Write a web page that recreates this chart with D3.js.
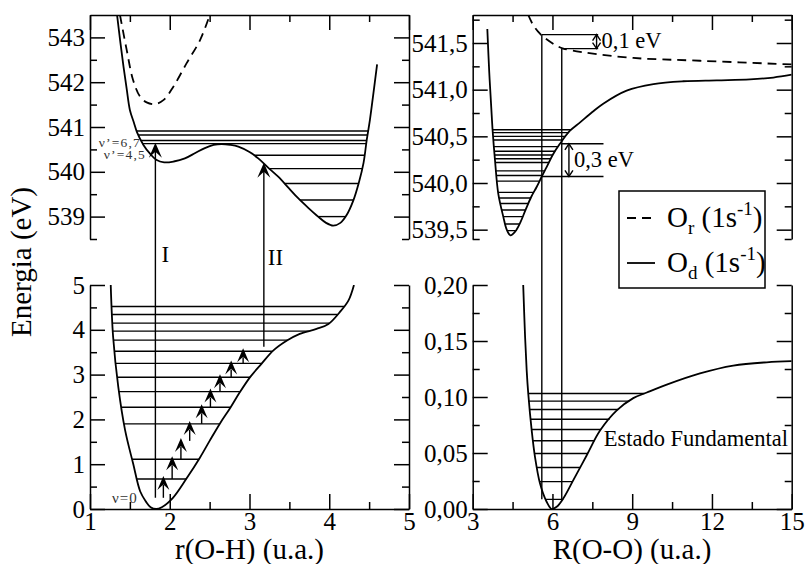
<!DOCTYPE html>
<html>
<head>
<meta charset="utf-8">
<script src="https://cdn.jsdelivr.net/npm/d3@7"></script>
<style>
  body { margin: 0; background: #fff; }
  svg text { font-family: "Liberation Serif", "DejaVu Serif", serif; }
</style>
</head>
<body>
<svg id="chart" width="807" height="564"></svg>
<script>
// ---------- values ----------
var ohTicks = [1, 2, 3, 4, 5];
var ohMinor = [1.5, 2.5, 3.5, 4.5];
var ooTicks = [3, 6, 9, 12, 15];
var ooMinor = [4.5, 7.5, 10.5, 13.5];
var ohCoreTicks = [539, 540, 541, 542, 543];
var ohCoreMinor = [538.5, 539.5, 540.5, 541.5, 542.5];
var ohGroundTicks = [0, 1, 2, 3, 4, 5];
var ohGroundMinor = [0.5, 1.5, 2.5, 3.5, 4.5];
var ooCoreTicks = [539.5, 540.0, 540.5, 541.0, 541.5];
var ooCoreMinor = [539.4, 539.75, 540.25, 540.75, 541.25, 541.75];
var ooGroundTicks = [0, 0.05, 0.10, 0.15, 0.20];
var ooGroundMinor = [0.025, 0.075, 0.125, 0.175];

// O-H stretch, core excited O_d (1s^-1), solid
var ohCoreR = [1.34, 1.38, 1.42, 1.46, 1.50, 1.55, 1.59, 1.67, 1.75, 1.83, 1.93, 2.05, 2.19, 2.32, 2.44, 2.55, 2.65,
  2.76, 2.86, 3.00, 3.11, 3.23, 3.36, 3.49, 3.61, 3.74, 3.86, 3.96, 4.05, 4.14, 4.22, 4.30, 4.37, 4.43, 4.47, 4.51, 4.55, 4.60];
var ohCoreE = [543.49, 542.9, 542.35, 541.85, 541.38, 541.1, 540.88, 540.6, 540.41, 540.27, 540.21, 540.23, 540.30, 540.42, 540.53, 540.6, 540.62,
  540.6, 540.56, 540.44, 540.30, 540.10, 539.89, 539.64, 539.41, 539.19, 539.0, 538.86, 538.8, 538.86, 539.04, 539.35, 539.75, 540.2, 540.71, 541.16, 541.7, 542.4];
// O-H stretch, O_r (1s^-1), dashed
var ohCoreRDash = [1.376, 1.46, 1.54, 1.627, 1.71, 1.81, 1.92, 2.045, 2.21, 2.38, 2.50];
var ohCoreEDash = [543.5, 542.72, 542.05, 541.68, 541.55, 541.51, 541.60, 541.9, 542.42, 542.94, 543.49];
var ohCoreLevels = [539.0, 539.37, 539.74, 540.07, 540.37, 540.63, 540.70, 540.82, 540.91];

// O-H stretch, ground state
var ohGroundR = [1.26, 1.29, 1.355, 1.44, 1.54, 1.63, 1.70, 1.76, 1.83, 1.90, 2.04, 2.21, 2.38, 2.50, 2.63, 2.76, 2.88,
  3.01, 3.15, 3.30, 3.47, 3.63, 3.84, 3.99, 4.13, 4.24, 4.31];
var ohGroundE = [5.0, 3.84, 2.72, 1.76, 1.02, 0.39, 0.17, 0.04, 0.0, 0.04, 0.25, 0.68, 1.15, 1.52, 1.91, 2.26, 2.61,
  2.95, 3.24, 3.54, 3.76, 3.91, 4.02, 4.13, 4.39, 4.65, 5.0];
var ohGroundLevels = [0.25, 0.67, 1.11, 1.52, 1.90, 2.27, 2.62, 2.94, 3.25, 3.52, 3.77, 3.97, 4.15, 4.34, 4.52];
// small pumping arrows, r position of each step
var pumpR = [1.92, 2.03, 2.14, 2.25, 2.40, 2.51, 2.63, 2.77, 2.92];

// O-O stretch, core excited
var ooCoreR = [3.55, 3.62, 3.70, 3.75, 3.84, 3.96, 4.15, 4.28, 4.42, 4.60, 4.78, 5.0, 5.2, 5.41, 5.6, 5.78, 6.03, 6.28,
  6.66, 7.04, 7.5, 7.91, 8.79, 9.80, 10.92, 12.18, 13.43, 14.31, 15.0];
var ooCoreE = [541.65, 541.2, 540.8, 540.56, 540.24, 539.89, 539.64, 539.5, 539.44, 539.48, 539.57, 539.72, 539.85, 539.96, 540.07, 540.17, 540.31, 540.42,
  540.56, 540.65, 540.76, 540.85, 540.99, 541.06, 541.09, 541.1, 541.11, 541.13, 541.16];
var ooCoreRDash = [5.09, 5.28, 5.53, 5.78, 6.16, 6.41, 7.16, 9.04, 11.55, 15.0];
var ooCoreEDash = [541.80, 541.69, 541.60, 541.54, 541.47, 541.44, 541.40, 541.34, 541.31, 541.27];
var ooCoreLevels = [539.49, 539.56, 539.64, 539.71, 539.78, 539.84, 539.90, 539.96, 540.02, 540.08, 540.13, 540.17,
  540.22, 540.26, 540.30, 540.34, 540.39, 540.42, 540.46, 540.50, 540.54, 540.57];

// O-O stretch, ground state
var ooGroundR = [4.90, 4.97, 5.03, 5.09, 5.22, 5.34, 5.53, 5.78, 5.97, 6.16, 6.41, 6.79, 7.29, 7.79, 8.42, 9.04, 9.55,
  10.3, 11.55, 12.8, 14.06, 15.0];
var ooGroundE = [0.200, 0.154, 0.124, 0.103, 0.070, 0.047, 0.023, 0.0065, 0.0, 0.002, 0.0095, 0.026, 0.048, 0.070, 0.088, 0.099, 0.104,
  0.111, 0.121, 0.128, 0.131, 0.132];
var ooGroundLevels = [0.0086, 0.0244, 0.0371, 0.0496, 0.0609, 0.0710, 0.0802, 0.0889, 0.0963, 0.1031];

// vertical transitions: [r, E start (ground), E end (core excited)]
var ohTransitions = [[1.82, 0.25, 540.65], [3.18, 3.62, 540.2]];
var ohTransitionNames = ["I", "II"];
var ooTransitions = [[5.6, 0.0086, 541.59], [6.35, 0.0086, 541.44]];
// energy gaps marked in the O-O panel: [R of arrow, E low, E high, R end of guide lines]
var ooGaps = [[7.66, 541.44, 541.59, 7.72], [6.62, 540.07, 540.42, 7.92]];
var ooGapNames = ["0,1 eV", "0,3 eV"];
var legendSubs = ["r", "d"];

// ---------- layout ----------
var serif = "Liberation Serif";
var svg = d3.select("#chart");
var xOH = d3.scaleLinear().domain([1, 5]).range([90, 409]);
var xOO = d3.scaleLinear().domain([3, 15]).range([472.7, 791.7]);
var yOHc = d3.scaleLinear().domain([538.5, 543.5]).range([239, 15]);
var yOHg = d3.scaleLinear().domain([0, 5]).range([509, 285]);
var yOOc = d3.scaleLinear().domain([539.4, 541.8]).range([239, 15]);
var yOOg = d3.scaleLinear().domain([0, 0.2]).range([509, 285]);

var comma1 = function(d) { return d3.format(".1f")(d).replace(".", ","); };
var comma2 = function(d) { return d3.format(".2f")(d).replace(".", ","); };

function styleAxis(g) {
  g.attr("font-size", 25).attr("font-family", serif);
  g.selectAll("line, path").attr("stroke", "#000").attr("stroke-width", 1.5);
  g.selectAll("text").attr("fill", "#000");
}

// one panel: left/right spines with inward ticks, top or bottom spine
function panel(x, y, yMajor, yMinor, yFmt, xMajor, xMinor, bottom) {
  var x0 = x.range()[0], x1 = x.range()[1];
  var yb = y.range()[0], yt = y.range()[1];
  var g = svg.append("g");
  g.append("g").attr("transform", "translate(" + x0 + ",0)")
    .call(d3.axisLeft(y).tickValues(yMajor).tickSize(-15).tickSizeOuter(0).tickPadding(5).tickFormat(yFmt)).call(styleAxis);
  g.append("g").attr("transform", "translate(" + x0 + ",0)")
    .call(d3.axisLeft(y).tickValues(yMinor).tickSize(-7).tickFormat("")).call(styleAxis)
    .select(".domain").remove();
  g.append("g").attr("transform", "translate(" + x1 + ",0)")
    .call(d3.axisRight(y).tickValues(yMajor).tickSize(-15).tickSizeOuter(0).tickFormat("")).call(styleAxis);
  g.append("g").attr("transform", "translate(" + x1 + ",0)")
    .call(d3.axisRight(y).tickValues(yMinor).tickSize(-7).tickFormat("")).call(styleAxis)
    .select(".domain").remove();
  if (bottom) {
    g.append("g").attr("transform", "translate(0," + yb + ")")
      .call(d3.axisBottom(x).tickValues(xMajor).tickSize(-15).tickSizeOuter(0).tickPadding(3).tickFormat(d3.format("d"))).call(styleAxis);
    g.append("g").attr("transform", "translate(0," + yb + ")")
      .call(d3.axisBottom(x).tickValues(xMinor).tickSize(-7).tickFormat("")).call(styleAxis)
      .select(".domain").remove();
  } else {
    g.append("g").attr("transform", "translate(0," + yt + ")")
      .call(d3.axisTop(x).tickValues(xMajor).tickSize(-15).tickSizeOuter(0).tickFormat("")).call(styleAxis);
    g.append("g").attr("transform", "translate(0," + yt + ")")
      .call(d3.axisTop(x).tickValues(xMinor).tickSize(-7).tickFormat("")).call(styleAxis)
      .select(".domain").remove();
  }
}

panel(xOH, yOHc, ohCoreTicks, ohCoreMinor, d3.format("d"), ohTicks, ohMinor, false);
panel(xOH, yOHg, ohGroundTicks, ohGroundMinor, d3.format("d"), ohTicks, ohMinor, true);
panel(xOO, yOOc, ooCoreTicks, ooCoreMinor, comma1, ooTicks, ooMinor, false);
panel(xOO, yOOg, ooGroundTicks, ooGroundMinor, comma2, ooTicks, ooMinor, true);

// clip each plotting area
var defs = svg.append("defs");
function clipFor(id, x, y) {
  defs.append("clipPath").attr("id", id).append("rect")
    .attr("x", x.range()[0]).attr("y", y.range()[1])
    .attr("width", x.range()[1] - x.range()[0]).attr("height", y.range()[0] - y.range()[1]);
  return svg.append("g").attr("clip-path", "url(#" + id + ")");
}

// potential curve
function curve(g, x, y, rs, es, dashed) {
  var pts = rs.map(function(r, i) { return [r, es[i]]; });
  var line = d3.line()
    .x(function(d) { return x(d[0]); })
    .y(function(d) { return y(d[1]); })
    .curve(d3.curveCatmullRom.alpha(0.5));
  g.append("path").datum(pts)
    .attr("fill", "none").attr("stroke", "#000")
    .attr("stroke-width", 1.8)
    .attr("stroke-dasharray", dashed ? "9,6" : null)
    .attr("d", line);
}

// where a horizontal level E cuts the curve (linear between read points)
function crossings(rs, es, e) {
  var out = [];
  for (var i = 0; i < rs.length - 1; i++) {
    var e0 = es[i], e1 = es[i + 1];
    if ((e0 - e) * (e1 - e) <= 0 && e0 !== e1) {
      out.push(rs[i] + (e - e0) / (e1 - e0) * (rs[i + 1] - rs[i]));
    }
  }
  return out;
}

function levels(g, x, y, rs, es, lv) {
  lv.forEach(function(e) {
    var c = crossings(rs, es, e);
    if (c.length < 2) return;
    g.append("line")
      .attr("x1", x(c[c.length - 2])).attr("x2", x(c[c.length - 1]))
      .attr("y1", y(e)).attr("y2", y(e))
      .attr("stroke", "#000").attr("stroke-width", 1.4);
  });
}

// filled arrow head (xmgrace style, notched)
function arrowHead(g, px, py, w, l) {
  g.append("path")
    .attr("d", "M" + px + "," + py + "L" + (px - w / 2) + "," + (py + l) + "L" + px + "," + (py + l * 0.6) +
      "L" + (px + w / 2) + "," + (py + l) + "Z")
    .attr("fill", "#000");
}

var gOHc = clipFor("c1", xOH, yOHc);
var gOHg = clipFor("c2", xOH, yOHg);
var gOOc = clipFor("c3", xOO, yOOc);
var gOOg = clipFor("c4", xOO, yOOg);

levels(gOHc, xOH, yOHc, ohCoreR, ohCoreE, ohCoreLevels);
curve(gOHc, xOH, yOHc, ohCoreR, ohCoreE, false);
curve(gOHc, xOH, yOHc, ohCoreRDash, ohCoreEDash, true);

levels(gOHg, xOH, yOHg, ohGroundR, ohGroundE, ohGroundLevels);
curve(gOHg, xOH, yOHg, ohGroundR, ohGroundE, false);

levels(gOOc, xOO, yOOc, ooCoreR, ooCoreE, ooCoreLevels);
curve(gOOc, xOO, yOOc, ooCoreR, ooCoreE, false);
curve(gOOc, xOO, yOOc, ooCoreRDash, ooCoreEDash, true);

levels(gOOg, xOO, yOOg, ooGroundR, ooGroundE, ooGroundLevels);
curve(gOOg, xOO, yOOg, ooGroundR, ooGroundE, false);

// step-wise excitation arrows in the O-H ground state
pumpR.forEach(function(r, i) {
  var px = xOH(r), yFrom = yOHg(ohGroundLevels[i]), yTo = yOHg(ohGroundLevels[i + 1]);
  svg.append("line").attr("x1", px).attr("x2", px).attr("y1", yFrom).attr("y2", yTo + 6)
    .attr("stroke", "#000").attr("stroke-width", 1.4);
  arrowHead(svg, px, yTo - 3, 12, 14);
});

// O-H transitions I and II
var ohNameDx = [6, 4], ohNameY = [262, 265];
ohTransitions.forEach(function(t, i) {
  var px = xOH(t[0]);
  svg.append("line").attr("x1", px).attr("x2", px)
    .attr("y1", yOHg(t[1])).attr("y2", yOHc(t[2]) + 6)
    .attr("stroke", "#000").attr("stroke-width", 1.4);
  arrowHead(svg, px, yOHc(t[2]), 13, 15);
  svg.append("text").attr("x", px + ohNameDx[i]).attr("y", ohNameY[i])
    .attr("font-size", 23).text(ohTransitionNames[i]);
});

// vibrational labels
svg.append("text").attr("x", 141).attr("y", 146.5).attr("text-anchor", "end")
  .attr("font-size", 13.5).attr("letter-spacing", 1.2).attr("fill", "#333").text("ν’=6,7");
svg.append("text").attr("x", 146).attr("y", 158.5).attr("text-anchor", "end")
  .attr("font-size", 13.5).attr("letter-spacing", 1.2).attr("fill", "#333").text("ν’=4,5");
svg.append("text").attr("x", 112).attr("y", 503)
  .attr("font-size", 15).attr("letter-spacing", 1).attr("fill", "#333").text("ν=0");

// O-O transitions
ooTransitions.forEach(function(t) {
  var px = xOO(t[0]);
  svg.append("line").attr("x1", px).attr("x2", px)
    .attr("y1", yOOg(t[1])).attr("y2", yOOc(t[2]))
    .attr("stroke", "#000").attr("stroke-width", 1.4);
});

// energy gap brackets
function openHead(px, py, dir) {
  svg.append("path")
    .attr("d", "M" + (px - 4) + "," + (py + dir * 6) + "L" + px + "," + py + "L" + (px + 4) + "," + (py + dir * 6))
    .attr("fill", "none").attr("stroke", "#000").attr("stroke-width", 1.4);
}
var gapStartR = [[ooTransitions[1][0], ooTransitions[0][0]], [ooTransitions[0][0], ooTransitions[1][0]]];
var gapTextDx = [5, 5], gapTextDy = [6, 7];
ooGaps.forEach(function(gp, i) {
  var lowY = yOOc(gp[1]), highY = yOOc(gp[2]);
  svg.append("line").attr("x1", xOO(gapStartR[i][0])).attr("x2", xOO(gp[3]))
    .attr("y1", lowY).attr("y2", lowY).attr("stroke", "#000").attr("stroke-width", 1.4);
  svg.append("line").attr("x1", xOO(gapStartR[i][1])).attr("x2", xOO(gp[3]))
    .attr("y1", highY).attr("y2", highY).attr("stroke", "#000").attr("stroke-width", 1.4);
  var ax = xOO(gp[0]);
  svg.append("line").attr("x1", ax).attr("x2", ax).attr("y1", lowY).attr("y2", highY)
    .attr("stroke", "#000").attr("stroke-width", 1.4);
  openHead(ax, highY, 1);
  openHead(ax, lowY, -1);
  svg.append("text").attr("x", ax + gapTextDx[i]).attr("y", (lowY + highY) / 2 + gapTextDy[i])
    .attr("font-size", 22.5).text(ooGapNames[i]);
});

svg.append("text").attr("x", 788).attr("y", 446).attr("text-anchor", "end")
  .attr("font-size", 22.5).text("Estado Fundamental");

// legend
var lg = svg.append("g");
lg.append("rect").attr("x", 619).attr("y", 191).attr("width", 146).attr("height", 97)
  .attr("fill", "#fff").attr("stroke", "#000").attr("stroke-width", 1.5);
legendSubs.forEach(function(s, i) {
  var ly = 218 + i * 45;
  lg.append("line").attr("x1", 627).attr("x2", 655).attr("y1", ly).attr("y2", ly)
    .attr("stroke", "#000").attr("stroke-width", 1.8)
    .attr("stroke-dasharray", i === 0 ? "9,6" : null);
  var t = lg.append("text").attr("x", 667).attr("y", ly + 9).attr("font-size", 29);
  t.append("tspan").text("O");
  t.append("tspan").attr("font-size", 19).attr("dy", 7).text(s);
  t.append("tspan").attr("dy", -7).text(" (1s");
  t.append("tspan").attr("font-size", 19).attr("dy", -12).text("-1");
  t.append("tspan").attr("dy", 12).text(")");
});

// axis titles
svg.append("text").attr("transform", "translate(31,262) rotate(-90)")
  .attr("text-anchor", "middle").attr("font-size", 29).text("Energia (eV)");
svg.append("text").attr("x", 249.5).attr("y", 559).attr("text-anchor", "middle")
  .attr("font-size", 29).text("r(O-H) (u.a.)");
svg.append("text").attr("x", 632).attr("y", 559).attr("text-anchor", "middle")
  .attr("font-size", 29).text("R(O-O) (u.a.)");

// same serif face everywhere
svg.selectAll("text").attr("font-family", serif);
</script>
</body>
</html>
